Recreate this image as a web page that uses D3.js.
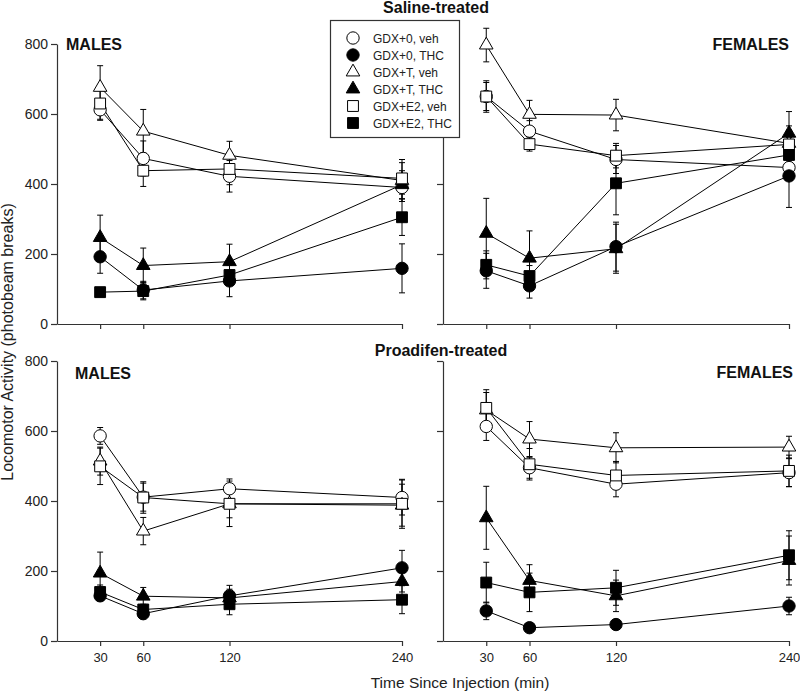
<!DOCTYPE html>
<html><head><meta charset="utf-8">
<script src="https://cdn.jsdelivr.net/npm/d3@7"></script>
<style>body{margin:0;background:#fff} svg{display:block}</style>
</head><body>
<svg id="c" width="800" height="695"></svg>
<script>
// ---------- data ----------
const times = [30, 60, 120, 240];
const yTicks = [0, 200, 400, 600, 800];
const seriesNames = ["GDX+0, veh", "GDX+0, THC", "GDX+T, veh", "GDX+T, THC", "GDX+E2, veh", "GDX+E2, THC"];
const seriesShapes = ["circle", "circle", "triangle", "triangle", "square", "square"];
const seriesFilled = [false, true, false, true, false, true];

// Saline-treated, MALES
const salineMalesMean = [
  [612, 473, 422, 390],
  [192, 97, 123, 159],
  [676, 551, 482, 410],
  [247, 167, 178, 398],
  [630, 438, 443, 416],
  [91, 94, 140, 305]
];
const salineMalesSE = [
  [30, 50, 45, 40],
  [47, 25, 45, 70],
  [62, 62, 40, 60],
  [64, 50, 50, 40],
  [45, 45, 45, 45],
  [8, 25, 30, 52]
];
// Saline-treated, FEMALES
const salineFemalesMean = [
  [650, 551, 470, 447],
  [152, 109, 221, 423],
  [797, 599, 597, 516],
  [259, 188, 215, 545],
  [650, 514, 481, 513],
  [169, 137, 402, 483]
];
const salineFemalesSE = [
  [40, 30, 40, 35],
  [50, 35, 70, 90],
  [48, 40, 45, 50],
  [100, 78, 70, 62],
  [45, 20, 35, 40],
  [40, 30, 90, 50]
];
// Proadifen-treated, MALES
const proadifenMalesMean = [
  [586, 411, 435, 410],
  [129, 78, 129, 209],
  [514, 314, 392, 388],
  [194, 128, 123, 170],
  [499, 410, 392, 392],
  [140, 90, 105, 118]
];
const proadifenMalesSE = [
  [24, 40, 28, 50],
  [15, 15, 30, 50],
  [40, 39, 40, 60],
  [60, 25, 25, 30],
  [52, 45, 65, 70],
  [20, 15, 30, 40]
];
// Proadifen-treated, FEMALES
const proadifenFemalesMean = [
  [613, 495, 448, 481],
  [86, 38, 47, 100],
  [660, 577, 552, 554],
  [352, 173, 129, 230],
  [666, 505, 473, 486],
  [167, 139, 152, 245]
];
const proadifenFemalesSE = [
  [40, 30, 36, 40],
  [25, 8, 10, 25],
  [50, 50, 43, 31],
  [90, 45, 45, 70],
  [52, 45, 40, 45],
  [58, 55, 50, 70]
];

// ---------- drawing ----------
const FONT = "'Liberation Sans', Arial, Helvetica, sans-serif";
const AXIS = "#333";
const svg = d3.select("#c").style("font-family", FONT);

const panels = [
  {mean: salineMalesMean, se: salineMalesSE, x0: 57, x1: 402, y0: 324, y1: 44, left: true, bottom: false,
   label: "MALES", lx: 66, ly: 50, anchor: "start"},
  {mean: salineFemalesMean, se: salineFemalesSE, x0: 443, x1: 789, y0: 324, y1: 44, left: false, bottom: false,
   label: "FEMALES", lx: 789, ly: 50, anchor: "end"},
  {mean: proadifenMalesMean, se: proadifenMalesSE, x0: 57, x1: 402, y0: 641, y1: 361, left: true, bottom: true,
   label: "MALES", lx: 75, ly: 379, anchor: "start"},
  {mean: proadifenFemalesMean, se: proadifenFemalesSE, x0: 443, x1: 789, y0: 641, y1: 361, left: false, bottom: true,
   label: "FEMALES", lx: 793, ly: 378, anchor: "end"}
];

function symbolPath(shape) {
  if (shape === "circle") return d3.symbol(d3.symbolCircle, 120)();
  if (shape === "triangle") return d3.symbol(d3.symbolTriangle, 80)();
  return d3.symbol(d3.symbolSquare, 118)();
}

panels.forEach(p => {
  const x = d3.scaleLinear().domain([0, 240]).range([p.x0, p.x1]);
  const y = d3.scaleLinear().domain([0, 800]).range([p.y0, p.y1]);
  const g = svg.append("g");

  // axes
  const ya = d3.axisLeft(y).tickValues(yTicks).tickSize(6).tickPadding(3).tickSizeOuter(0);
  if (!p.left) ya.tickFormat("");
  const yg = g.append("g").attr("transform", `translate(${p.x0},0)`).call(ya);
  const xa = d3.axisBottom(x).tickValues(times).tickSize(5).tickPadding(7).tickSizeOuter(0);
  if (!p.bottom) xa.tickFormat("");
  const xg = g.append("g").attr("transform", `translate(0,${p.y0})`).call(xa);
  [yg, xg].forEach(a => {
    a.selectAll("path,line").attr("stroke", AXIS).attr("stroke-width", 1.2);
    a.selectAll("text").attr("fill", "#222").style("font-family", FONT);
  });
  yg.selectAll("text").style("font-size", "14px");
  xg.selectAll("text").style("font-size", "13px");

  // lines
  const line = d3.line().x((d, i) => x(times[i])).y(d => y(d));
  p.mean.forEach(s => {
    g.append("path").attr("d", line(s)).attr("fill", "none").attr("stroke", "#000").attr("stroke-width", 1);
  });
  // error bars
  p.mean.forEach((s, k) => {
    s.forEach((v, i) => {
      const e = p.se[k][i];
      const cx = x(times[i]);
      g.append("line").attr("x1", cx).attr("x2", cx).attr("y1", y(v - e)).attr("y2", y(v + e))
        .attr("stroke", "#000").attr("stroke-width", 1);
      [v - e, v + e].forEach(w => {
        g.append("line").attr("x1", cx - 3).attr("x2", cx + 3).attr("y1", y(w)).attr("y2", y(w))
          .attr("stroke", "#000").attr("stroke-width", 1);
      });
    });
  });
  // markers
  p.mean.forEach((s, k) => {
    s.forEach((v, i) => {
      g.append("path").attr("d", symbolPath(seriesShapes[k]))
        .attr("transform", `translate(${x(times[i])},${y(v)})`)
        .attr("fill", seriesFilled[k] ? "#000" : "#fff")
        .attr("stroke", "#000").attr("stroke-width", 1);
    });
  });

  g.append("text").attr("x", p.lx).attr("y", p.ly).attr("text-anchor", p.anchor)
    .style("font-size", "16px").style("font-weight", "bold").attr("fill", "#111").text(p.label);
});

// titles
svg.append("text").attr("x", 436).attr("y", 13).attr("text-anchor", "middle")
  .style("font-size", "16px").style("font-weight", "bold").attr("fill", "#111").text("Saline-treated");
svg.append("text").attr("x", 441).attr("y", 356).attr("text-anchor", "middle")
  .style("font-size", "16px").style("font-weight", "bold").attr("fill", "#111").text("Proadifen-treated");

// axis titles
svg.append("text").attr("transform", "translate(13,342) rotate(-90)").attr("text-anchor", "middle")
  .style("font-size", "16px").attr("fill", "#222").text("Locomotor Activity (photobeam breaks)");
svg.append("text").attr("x", 460).attr("y", 688).attr("text-anchor", "middle")
  .style("font-size", "15.5px").attr("fill", "#222").text("Time Since Injection (min)");

// legend
const lg = svg.append("g");
lg.append("rect").attr("x", 330.5).attr("y", 20.5).attr("width", 129).attr("height", 117)
  .attr("fill", "#fff").attr("stroke", AXIS).attr("stroke-width", 1.2);
seriesNames.forEach((name, k) => {
  const cy = 38 + k * 17;
  lg.append("path").attr("d", symbolPath(seriesShapes[k]))
    .attr("transform", `translate(353,${cy})`)
    .attr("fill", seriesFilled[k] ? "#000" : "#fff").attr("stroke", "#000").attr("stroke-width", 1);
  lg.append("text").attr("x", 373).attr("y", cy + 4.5).style("font-size", "12px").attr("fill", "#222").text(name);
});
</script>
</body></html>
